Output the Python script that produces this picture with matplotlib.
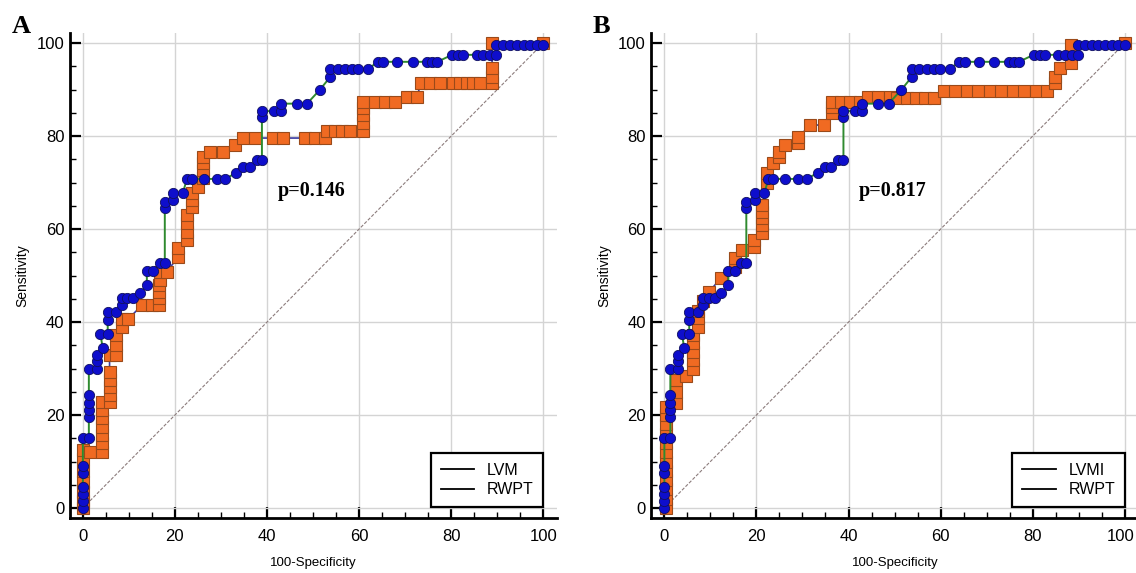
import matplotlib
matplotlib.use("Agg")
import matplotlib.pyplot as plt
import matplotlib.transforms as mtransforms
from matplotlib.lines import Line2D
from matplotlib.ticker import MultipleLocator

plt.rcParams['font.family'] = ['Liberation Sans', 'DejaVu Sans']

# LVM / LVMI ROC points (100-specificity, sensitivity)
lvm_x = [0, 0, 0, 0, 0, 0, 0, 1.3, 1.3, 1.3, 1.3, 1.3, 1.3, 3, 3, 3, 4.3, 3.8, 5.4,
         5.4, 5.4, 7.3, 8.4, 8.4, 9.6, 10.9, 12.4, 13.9, 13.9, 15.3, 16.7, 17.8, 17.8,
         17.8, 19.6, 19.6, 21.7, 22.6, 23.7, 26.3, 29.1, 30.9, 33.3, 34.8, 36.3, 37.8,
         38.9, 38.9, 38.9, 41.5, 43, 43, 46.5, 48.7, 51.5, 53.7, 53.7, 55.4, 57, 58.5,
         59.8, 62, 64.1, 65.2, 68.3, 71.7, 74.8, 75.9, 77, 80.2, 81.5, 82.6, 85.6, 87,
         88.5, 89.8, 89.8, 91.3, 92.8, 94.3, 95.8, 97.2, 98.6, 100]
lvm_y = [0, 1.5, 3, 4.5, 7.5, 9, 15, 15, 19.6, 21, 22.6, 24.3, 30, 30, 31.7, 33, 34.5,
         37.5, 37.5, 40.4, 42.1, 42.1, 43.6, 45.1, 45.1, 45.1, 46.3, 47.9, 51, 51, 52.7,
         52.7, 64.5, 65.9, 66.2, 67.7, 67.7, 70.8, 70.8, 70.8, 70.8, 70.8, 72.1, 73.4,
         73.4, 74.8, 74.8, 84.1, 85.4, 85.4, 85.4, 87, 87, 87, 90, 92.7, 94.5, 94.5,
         94.5, 94.5, 94.5, 94.5, 96, 96, 96, 96, 96, 96, 96, 97.5, 97.5, 97.5, 97.5,
         97.5, 97.5, 97.5, 99.6, 99.6, 99.6, 99.6, 99.6, 99.6, 99.6, 99.6]
lvmi_x = list(lvm_x)
lvmi_y = list(lvm_y)

# RWPT ROC points, panel A
rwpt_a_x = [0, 0, 0, 0, 0, 0, 0, 1.5, 4.1, 4.1, 4.1, 4.1, 4.1, 4.1, 4.1, 5.8, 5.8,
            5.8, 5.8, 5.8, 5.8, 7.3, 7.3, 7.3, 8.4, 8.4, 9.8, 12.8, 15, 16.5, 16.5,
            16.5, 16.5, 16.7, 16.7, 18.2, 20.7, 20.7, 22.6, 22.6, 22.6, 22.6, 23.7,
            23.7, 23.7, 25, 26.1, 26.1, 26.1, 26.1, 27.6, 30.4, 33, 34.8, 37.4, 41.3,
            43.5, 48.3, 50.4, 52.6, 53, 54.8, 56.3, 58, 60.9, 60.9, 60.9, 60.9, 60.9,
            63.5, 65.7, 67.8, 70.4, 72.5, 73.5, 75.4, 77.6, 80.4, 82, 83.5, 84.8, 86.3,
            88.9, 88.9, 88.9, 88.9, 100]
rwpt_a_y = [0, 1.5, 3.5, 5.5, 8, 10.5, 12.5, 12, 12, 14, 15.7, 17.4, 19.4, 21, 22.8,
            22.8, 24.3, 26, 27.5, 29.2, 32.9, 32.9, 35.1, 37.2, 38.9, 40.6, 40.6, 43.6,
            43.6, 43.6, 45.1, 46.5, 47.9, 49, 50.8, 50.8, 54, 55.9, 57.6, 59.4, 61.3, 63,
            64.7, 66.2, 67.7, 69, 70.9, 72.7, 74.2, 75.5, 76.6, 76.6, 78, 79.6, 79.6,
            79.6, 79.6, 79.6, 79.6, 79.6, 81.2, 81.2, 81.2, 81.2, 81.2, 82.8, 84.5, 86,
            87.3, 87.3, 87.3, 87.3, 88.4, 88.4, 91.4, 91.4, 91.4, 91.4, 91.4, 91.4, 91.4,
            91.4, 91.4, 92.7, 94.6, 100, 100]

# RWPT ROC points, panel B
rwpt_b_x = [0.4, 0.4, 0.4, 0.4, 0.4, 0.4, 0.4, 0.4, 0.4, 0.4, 0.4, 0.4, 2.6, 2.6,
            2.6, 4.6, 6.3, 6.3, 6.3, 6.3, 6.3, 7.4, 7.4, 7.4, 8.3, 9.7, 12.2, 15.4,
            15.4, 16.8, 19.4, 19.4, 21.3, 21.3, 21.3, 21.3, 21.3, 22.4, 22.4, 23.5,
            24.8, 24.8, 26.3, 29.1, 29.1, 31.7, 34.6, 36.5, 36.5, 36.5, 38.3, 40.4,
            42.6, 44.3, 46.5, 49.1, 50.6, 52.6, 54.6, 56.6, 58.5, 60.7, 63.2, 65.7,
            68.2, 70.7, 73.2, 75.7, 78.2, 80.7, 83.2, 84.8, 84.8, 86, 88.3, 88.3, 100]
rwpt_b_y = [0, 2, 4, 6, 8, 10, 12, 14, 16, 18, 20, 21.7, 22.5, 25, 27.5, 28.5, 30,
            31.8, 33.6, 35.4, 37.2, 39, 40.8, 42.4, 44.5, 46.5, 49.4, 51.8, 53.7, 55.5,
            56.2, 57.7, 59.1, 60.8, 62.3, 63.7, 65.2, 70, 72, 74.2, 75.5, 76.6, 78,
            78.5, 79.8, 82.4, 82.4, 84.9, 86.2, 87.3, 87.3, 87.3, 87.3, 88.4, 88.4,
            88.4, 88.3, 88.3, 88.3, 88.3, 88.3, 89.8, 89.8, 89.8, 89.8, 89.8, 89.8,
            89.8, 89.8, 89.8, 89.8, 91.4, 92.7, 94.6, 95.7, 99.6, 100]

ticks = [0, 20, 40, 60, 80, 100]

orange = '#F06A22'
orange_edge = '#9A4A1A'
blue = '#0E0ECC'
blue_edge = '#101060'


def draw_panel(ax, bx, by, ox, oy, names, ptext, letter):
    ax.set_xlim(-2.8, 103)
    ax.set_ylim(-2.15, 102.2)
    for s in ['top', 'right']:
        ax.spines[s].set_visible(False)
    for s in ['left', 'bottom']:
        ax.spines[s].set_linewidth(2)
    ax.set_xticks(ticks)
    ax.set_yticks(ticks)
    ax.xaxis.set_minor_locator(MultipleLocator(5))
    ax.yaxis.set_minor_locator(MultipleLocator(5))
    ax.tick_params(which='major', direction='in', length=8, width=1.6,
                   labelsize=12, colors='black')
    ax.tick_params(which='minor', direction='in', length=4, width=1)
    ax.tick_params(axis='x', pad=8)
    ax.tick_params(axis='y', pad=4)
    ax.grid(True, which='major', color='#d4d4d4', lw=1)
    ax.set_axisbelow(True)

    ax.plot([0, 100], [0, 100], color='#8c7c7c', lw=0.8, ls=(0, (3, 1.5)))

    ax.plot(ox, oy, color='#3a3aa0', lw=1.2, marker='s', ms=8,
            mfc=orange, mec=orange_edge, mew=0.8, zorder=3)
    ax.plot(bx, by, color='#2f8a2f', lw=1.4, marker='o', ms=7.4,
            mfc=blue, mec=blue_edge, mew=0.6, zorder=4)

    ax.set_xlabel('100-Specificity', fontsize=9.5, labelpad=9)
    ax.set_ylabel('Sensitivity', fontsize=10, labelpad=5)

    ax.text(42.3, 68.3, ptext, family=['Liberation Serif'], fontweight='bold',
            fontsize=14.5, va='center', ha='left')
    ax.text(-15.5, 103.5, letter, family=['Liberation Serif'],
            fontweight='bold', fontsize=19, va='center', ha='left', clip_on=False)

    handles = [Line2D([], [], color='black', lw=1.3),
               Line2D([], [], color='black', lw=1.3)]
    leg = ax.legend(handles, names, loc='lower right', bbox_to_anchor=(100, 0.2),
                    bbox_transform=ax.transData, fontsize=11.5, fancybox=False,
                    framealpha=1, edgecolor='black', handlelength=2.1,
                    borderpad=0.6, labelspacing=0.3, handletextpad=0.8,
                    borderaxespad=0)
    leg.get_frame().set_linewidth(1.6)


fig = plt.figure(figsize=(11.36, 5.73), dpi=100)
ax1 = fig.add_axes([0.0616, 0.096, 0.4287, 0.8464])
ax2 = fig.add_axes([0.5735, 0.096, 0.4287, 0.8464])

draw_panel(ax1, lvm_x, lvm_y, rwpt_a_x, rwpt_a_y, ['LVM', 'RWPT'], 'p=0.146', 'A')
draw_panel(ax2, lvmi_x, lvmi_y, rwpt_b_x, rwpt_b_y, ['LVMI', 'RWPT'], 'p=0.817', 'B')

# keep the last x tick label of panel B inside the figure edge
last = ax2.get_xticklabels()[-1]
last.set_transform(last.get_transform() +
                   mtransforms.ScaledTranslation(-4 / 100, 0, fig.dpi_scale_trans))

fig.savefig('out.png', dpi=100)
